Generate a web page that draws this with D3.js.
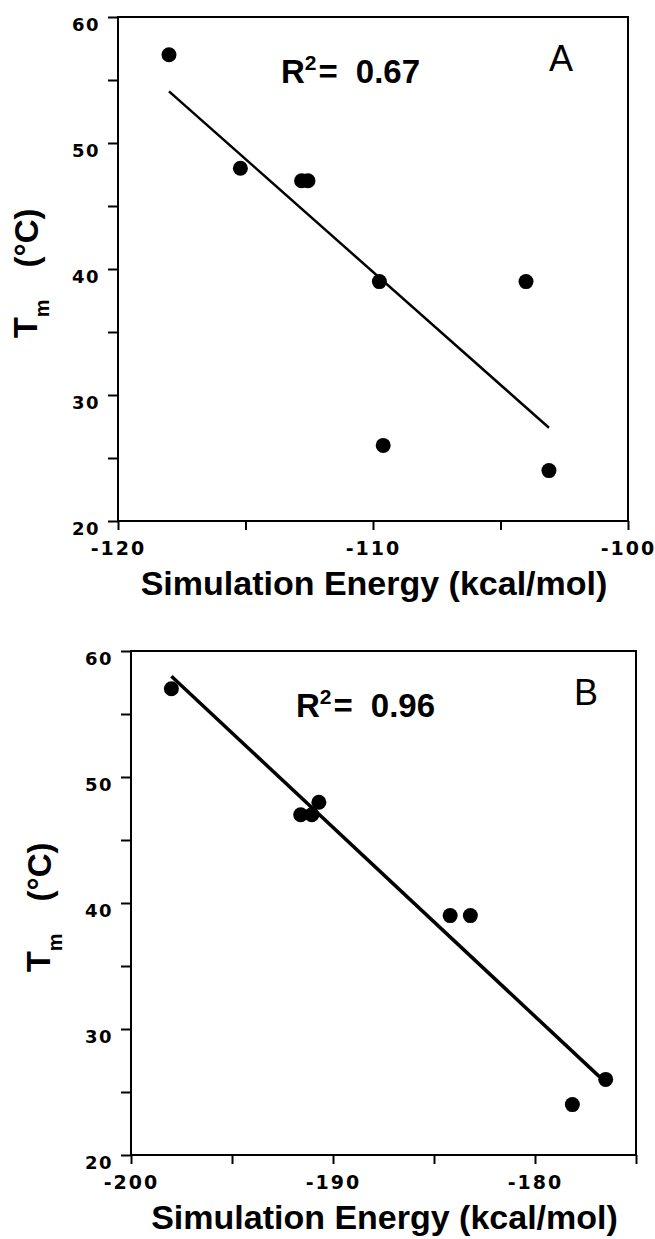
<!DOCTYPE html>
<html>
<head>
<meta charset="utf-8">
<script src="https://cdn.jsdelivr.net/npm/d3@7"></script>
<style>
  html, body { margin: 0; padding: 0; background: #fff; }
  svg { display: block; }
  text { font-family: 'Liberation Sans', Arial, Helvetica, sans-serif; fill: #000; }
</style>
</head>
<body>
<div id="chart"></div>
<script>
(() => {
'use strict';

// panel A: simulation energy vs Tm
const energyA = [-118.0, -115.2, -112.8, -112.55, -109.75, -109.6, -104.0, -103.1];
const tmA = [57, 48, 47, 47, 39, 26, 39, 24];
const fitEnergyA = [-118.0, -103.1];
const fitTmA = [54.1, 27.4];
const xTicksA = [-120, -115, -110, -105, -100];
const xLabelsA = [-120, -110, -100];

// panel B
const energyB = [-198.0, -191.6, -191.05, -190.7, -184.2, -183.2, -178.15, -176.5];
const tmB = [57, 47, 47, 48, 39, 39, 24, 26];
const fitEnergyB = [-198.0, -176.8];
const fitTmB = [58.0, 26.2];
const xTicksB = [-200, -195, -190, -185, -180, -175];
const xLabelsB = [-200, -190, -180];

const yTicks = [20, 25, 30, 35, 40, 45, 50, 55, 60];
const yLabels = [20, 30, 40, 50, 60];
const r2Values = ['0.67', '0.96'];
const panelNames = ['A', 'B'];

const WIDTH = 655;
const HEIGHT = 1239;
const TICK_FONT = "'DejaVu Sans', Verdana, sans-serif";

const svg = d3.select('#chart')
  .append('svg')
  .attr('width', WIDTH)
  .attr('height', HEIGHT);

svg.append('rect')
  .attr('width', WIDTH)
  .attr('height', HEIGHT)
  .attr('fill', '#fff');

const drawPanel = (cfg) => {
  const xScale = d3.scaleLinear()
    .domain(cfg.xDomain)
    .range([cfg.left, cfg.right]);
  const yScale = d3.scaleLinear()
    .domain([20, 60])
    .range([cfg.bottom, cfg.top]);

  const g = svg.append('g');

  const xAxis = d3.axisBottom(xScale)
    .tickValues(cfg.xTicks)
    .tickSize(9)
    .tickPadding(12)
    .tickFormat((d) => cfg.xLabels.includes(d) ? d : '');

  const yAxis = d3.axisLeft(yScale)
    .tickValues(yTicks)
    .tickSize(10)
    .tickPadding(8)
    .tickFormat((d) => yLabels.includes(d) ? d : '');

  const gx = g.append('g')
    .attr('transform', `translate(0, ${cfg.bottom})`)
    .call(xAxis);
  gx.select('.domain').remove();
  gx.selectAll('line').attr('stroke', '#000').attr('stroke-width', 2);
  gx.selectAll('text')
    .style('font-family', TICK_FONT)
    .style('font-size', '19px')
    .style('font-weight', 'bold')
    .style('letter-spacing', '2px')
    .attr('fill', '#000');

  const gy = g.append('g')
    .attr('transform', `translate(${cfg.left}, 0)`)
    .call(yAxis);
  gy.select('.domain').remove();
  gy.selectAll('line').attr('stroke', '#000').attr('stroke-width', 2);
  gy.selectAll('text')
    .style('font-family', TICK_FONT)
    .style('font-size', '18px')
    .style('font-weight', 'bold')
    .style('letter-spacing', '1.5px')
    .attr('dy', '0.76em')
    .attr('fill', '#000');

  // frame
  g.append('rect')
    .attr('x', cfg.left)
    .attr('y', cfg.top)
    .attr('width', cfg.right - cfg.left)
    .attr('height', cfg.bottom - cfg.top)
    .attr('fill', 'none')
    .attr('stroke', '#000')
    .attr('stroke-width', 2);

  // regression line
  const line = d3.line()
    .x((d) => xScale(d[0]))
    .y((d) => yScale(d[1]));
  g.append('path')
    .datum(d3.zip(cfg.fitX, cfg.fitY))
    .attr('d', line)
    .attr('fill', 'none')
    .attr('stroke', '#000')
    .attr('stroke-width', cfg.lineWidth);

  g.selectAll('circle')
    .data(d3.zip(cfg.energy, cfg.tm))
    .enter()
    .append('circle')
      .attr('cx', (d) => xScale(d[0]))
      .attr('cy', (d) => yScale(d[1]))
      .attr('r', 7.5)
      .attr('fill', '#000');

  // R^2 annotation
  const r2 = g.append('text')
    .attr('x', cfg.r2x)
    .attr('y', cfg.top + 66)
    .style('font-size', '33px')
    .style('font-weight', 'bold');
  r2.append('tspan').text('R');
  r2.append('tspan').style('font-size', '21px').attr('dy', -13).text('2');
  r2.append('tspan').attr('dy', 13).attr('dx', 2).text('=');
  r2.append('tspan').attr('dx', 18).text(cfg.r2);

  g.append('text')
    .attr('x', cfg.nameX)
    .attr('y', cfg.top + 54)
    .attr('text-anchor', 'middle')
    .style('font-size', '36px')
    .text(cfg.name);

  // axis titles
  g.append('text')
    .attr('x', (cfg.left + cfg.right) / 2 + 1)
    .attr('y', cfg.bottom + 74)
    .attr('text-anchor', 'middle')
    .style('font-size', '34px')
    .style('font-weight', 'bold')
    .text('Simulation Energy (kcal/mol)');

  const yt = g.append('text')
    .attr('transform', `translate(${cfg.left - 81}, ${(cfg.top + cfg.bottom) / 2 + 69}) rotate(-90)`)
    .style('font-weight', 'bold');
  yt.append('tspan').style('font-size', '34px').text('T');
  yt.append('tspan').style('font-size', '20px').attr('dy', 12).text('m');
  yt.append('tspan').style('font-size', '33px').attr('dx', 32).attr('dy', -11).text('(°C)');
};

drawPanel({
  xDomain: [-120, -100], left: 118, right: 628, top: 17, bottom: 521,
  xTicks: xTicksA, xLabels: xLabelsA,
  energy: energyA, tm: tmA, fitX: fitEnergyA, fitY: fitTmA, lineWidth: 2.5,
  r2: r2Values[0], r2x: 281, name: panelNames[0], nameX: 561
});

drawPanel({
  xDomain: [-200, -175], left: 131, right: 636, top: 651, bottom: 1155,
  xTicks: xTicksB, xLabels: xLabelsB,
  energy: energyB, tm: tmB, fitX: fitEnergyB, fitY: fitTmB, lineWidth: 3.5,
  r2: r2Values[1], r2x: 296, name: panelNames[1], nameX: 586
});

})();
</script>
</body>
</html>
